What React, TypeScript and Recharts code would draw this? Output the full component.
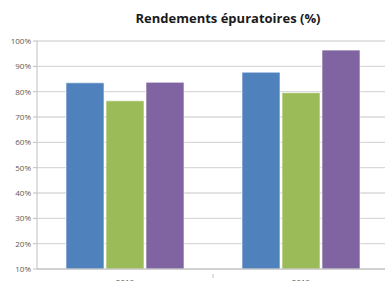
import React from 'react';
import { BarChart, Bar, XAxis, YAxis, CartesianGrid } from 'recharts';

const years = ['2013', '2015'];
const seriesA = [83.5, 87.7];
const seriesB = [76.4, 79.6];
const seriesC = [83.7, 96.4];
const yTicks = [10, 20, 30, 40, 50, 60, 70, 80, 90, 100];

const data = years.map((year, i) => ({
  year,
  a: seriesA[i],
  b: seriesB[i],
  c: seriesC[i],
}));

const FONT = '"Open Sans", "Liberation Sans", sans-serif';

const XTick = (props: any) => {
  const { x, y, payload, index, visibleTicksCount, width } = props;
  const step = width / visibleTicksCount;
  return (
    <g>
      {index < visibleTicksCount - 1 && (
        <line x1={x + step / 2} x2={x + step / 2} y1={y - 3} y2={y + 1} stroke="#BFBFBF" />
      )}
      <text x={x} y={y + 8} textAnchor="middle" fontSize={8} fill="#595959" fontFamily={FONT}>
        {payload.value}
      </text>
    </g>
  );
};

const App: React.FC = () => {
  return (
    <div style={{ position: 'fixed', left: 0, top: 0, width: 385, height: 281, overflow: 'hidden', background: '#fff' }}>
      <div
        style={{
          position: 'absolute',
          top: 9,
          left: 130,
          width: 196,
          textAlign: 'center',
          fontFamily: FONT,
          fontWeight: 700,
          fontSize: 13,
          color: '#1a1a1a',
          whiteSpace: 'nowrap',
        }}
      >
        Rendements épuratoires (%)
      </div>
      <BarChart
        width={395}
        height={290}
        data={data}
        margin={{ top: 41, right: 6, left: 0, bottom: 0 }}
        barCategoryGap={29}
        barGap={2}
      >
        <CartesianGrid vertical={false} stroke="#D9D9D9" strokeWidth={1.3} />
        <XAxis
          dataKey="year"
          height={21}
          axisLine={{ stroke: '#BFBFBF' }}
          tickLine={false}
          tick={<XTick />}
          interval={0}
        />
        <YAxis
          width={37}
          domain={[10, 100]}
          ticks={yTicks}
          tickFormatter={(v: number) => v + '%'}
          axisLine={{ stroke: '#BFBFBF' }}
          tickLine={{ stroke: '#BFBFBF' }}
          tickSize={4}
          tickMargin={2}
          tick={{ fontSize: 8, fill: '#595959', fontFamily: FONT }}
          allowDataOverflow
        />
        <Bar dataKey="a" fill="#4F81BD" stroke="#ffffff" strokeOpacity={0.6} isAnimationActive={false} />
        <Bar dataKey="b" fill="#9BBB59" stroke="#ffffff" strokeOpacity={0.6} isAnimationActive={false} />
        <Bar dataKey="c" fill="#8064A2" stroke="#ffffff" strokeOpacity={0.6} isAnimationActive={false} />
      </BarChart>
    </div>
  );
};

export default App;
